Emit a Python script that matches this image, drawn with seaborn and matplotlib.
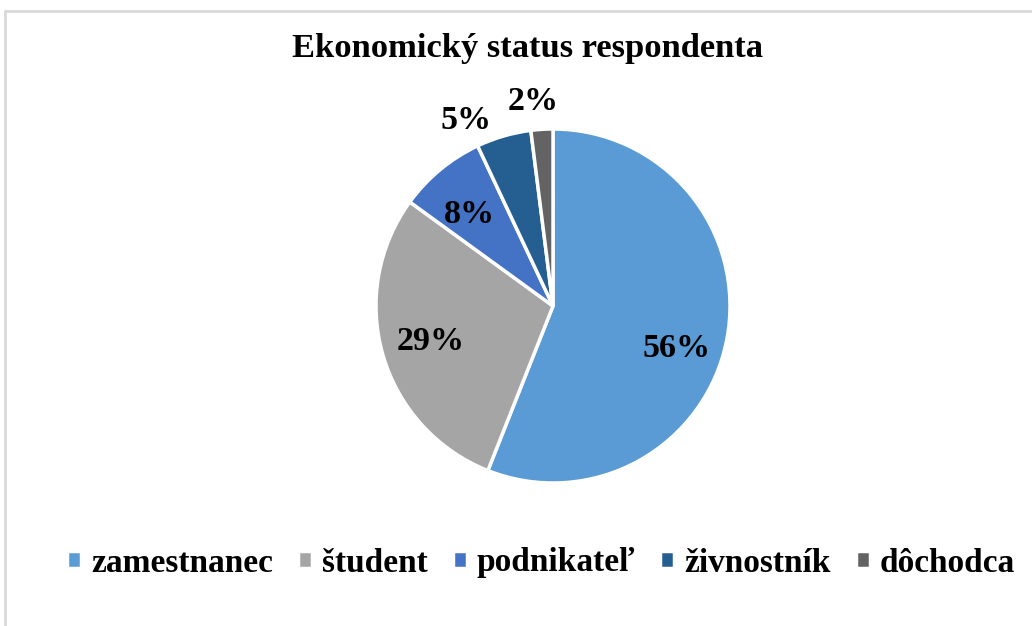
import numpy as np
import matplotlib
matplotlib.use("Agg")
import matplotlib.pyplot as plt
import seaborn as sns
from matplotlib.lines import Line2D

# data
kategorie = ['zamestnanec', 'študent', 'podnikateľ', 'živnostník', 'dôchodca']
podiely = [56, 29, 8, 5, 2]
farby = ['#5B9BD5', '#A5A5A5', '#4472C4', '#255E91', '#636363']
titulok = 'Ekonomický status respondenta'

sns.set_theme(style="white")
plt.rcParams['font.family'] = ['Liberation Serif', 'DejaVu Serif']
plt.rcParams['font.weight'] = 'bold'
plt.rcParams['text.color'] = 'black'

W, H = 1032, 626
fig = plt.figure(figsize=(W / 100, H / 100), dpi=100)
fig.patch.set_facecolor('white')

# chart border (gray frame, only top/left visible in the crop)
fig.add_artist(Line2D([4.5 / W, 4.5 / W], [0, 1 - 11 / H], color='#D9D9D9', lw=2))
fig.add_artist(Line2D([4.5 / W, 1], [1 - 11 / H, 1 - 11 / H], color='#D9D9D9', lw=2))

# pie axes
cx, cy, r = 553, 306, 177
ax = fig.add_axes([(cx - r) / W, (H - cy - r) / H, 2 * r / W, 2 * r / H])
paleta = sns.color_palette(farby)
wedges, _ = ax.pie(podiely, colors=paleta, startangle=90, counterclock=False,
                   radius=1, wedgeprops=dict(edgecolor='white', linewidth=2.5))
ax.set_xlim(-1, 1)
ax.set_ylim(-1, 1)
ax.set_aspect('equal')
ax.axis('off')

# percentage labels: inside for big slices, outside for small ones
vzdialenost = [0.74, 0.72, 0.70, 1.16, 1.16]
posun_uhla = [-8, 0, 3, 9, 2]
for w, p, d, du in zip(wedges, podiely, vzdialenost, posun_uhla):
    uhol = np.deg2rad((w.theta1 + w.theta2) / 2 + du)
    ax.text(d * np.cos(uhol), d * np.sin(uhol), f'{p}%', ha='center', va='center',
            fontsize=24.5, fontweight='bold', color='black')

fig.text(527 / W, 1 - 48 / H, titulok, ha='center', va='center',
         fontsize=24.8, fontweight='bold', color='black')

leg = fig.legend(wedges, kategorie, loc='center', bbox_to_anchor=(541 / W, 1 - 563 / H),
                 ncol=5, frameon=False, handlelength=0.42, handleheight=0.42,
                 handletextpad=0.3, columnspacing=0.75,
                 prop={'weight': 'bold', 'size': 24})
for t in leg.get_texts():
    t.set_color('black')

fig.savefig('out.png', dpi=100, facecolor='white')
